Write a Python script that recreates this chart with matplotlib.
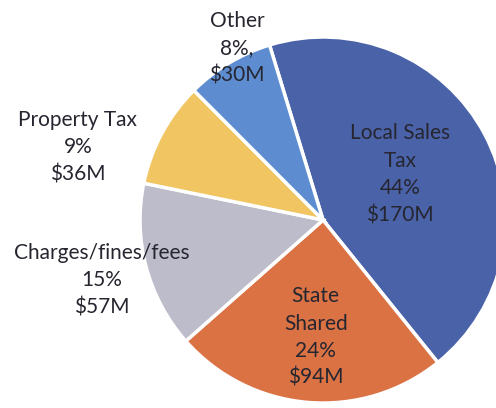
import matplotlib.pyplot as plt

# revenue by source, $M
sources = ['Local Sales\nTax', 'State\nShared', 'Charges/fines/fees', 'Property Tax', 'Other']
amounts = [170, 94, 57, 36, 30]
pct_labels = ['44%', '24%', '15%', '9%', '8%,']
colors = ['#4a62a8', '#da7244', '#bdbccb', '#f0c562', '#5d8dd0']

# label centres (pie radius = 1, centre at 0,0)
label_pos = [(0.42, 0.25), (-0.04, -0.64), (-1.21, -0.33), (-1.34, 0.40), (-0.47, 0.94)]

fig = plt.figure(figsize=(4.96, 4.08), dpi=100)
ax = fig.add_axes([0, 0, 1, 1])

ax.pie(amounts, colors=colors, startangle=107, counterclock=False,
       wedgeprops=dict(edgecolor='white', linewidth=2.5))

for name, amt, pct, (x, y) in zip(sources, amounts, pct_labels, label_pos):
    ax.text(x, y, f'{name}\n{pct}\n${amt}M', ha='center', va='center',
            fontsize=15, family='Lato', color='#262630', linespacing=1.45)

ax.set_xlim(-1.765, 0.945)
ax.set_ylim(-1.027, 1.202)
ax.set_aspect('equal')
ax.axis('off')

fig.savefig('out.png', dpi=100)
